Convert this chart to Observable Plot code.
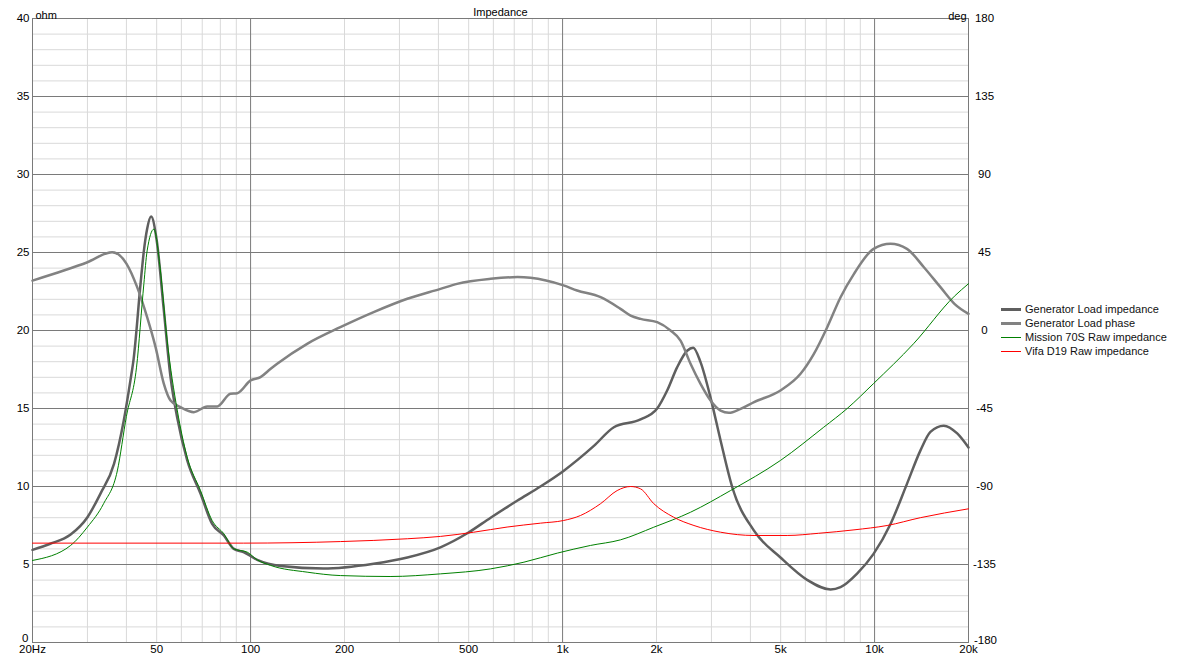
<!DOCTYPE html>
<html>
<head>
<meta charset="utf-8">
<script src="https://cdn.jsdelivr.net/npm/d3@7"></script>
<script src="https://cdn.jsdelivr.net/npm/@observablehq/plot@0.6"></script>
<style>
  html, body { margin: 0; padding: 0; background: #fff; }
  #wrap { position: relative; width: 1177px; height: 660px; font-family: "Liberation Sans", Arial, sans-serif; }
  #legend { position: absolute; left: 1001px; top: 302px; font-size: 11px; color: #111; }
  #legend .row { height: 14px; display: flex; align-items: center; white-space: nowrap; }
  #legend .sw { width: 20px; margin-right: 4px; }
</style>
</head>
<body>
<div id="wrap"><div id="legend"></div></div>
<script>
// ---------- data ----------
const genImpFreq = [20, 22.8, 26.5, 30, 33, 36.5, 39.2, 41.2, 42.2, 44.4, 45.5, 46.6, 48, 50, 52.6, 55.4, 58.2, 62.6, 69.1, 75.3, 82.1, 88.4, 94.9, 105, 114, 125, 171, 248, 318, 406, 495, 588, 717, 849, 1007, 1260, 1460, 1778, 2010, 2164, 2330, 2507, 2623, 2768, 2980, 3209, 3497, 4096, 4993, 6092, 7226, 7780, 8790, 9925, 11250, 12700, 14020, 15100, 16660, 18400, 20000];
const genImpOhm  = [5.94, 6.33, 6.92, 8.03, 9.53, 11.45, 14.2, 16.8, 18.2, 23.0, 25.1, 26.5, 27.3, 25.8, 21.5, 17.0, 14.4, 11.7, 9.55, 7.6, 6.86, 6.0, 5.8, 5.3, 5.05, 4.9, 4.74, 5.05, 5.45, 6.1, 7.0, 8.0, 9.1, 10.0, 11.0, 12.6, 13.8, 14.3, 15.0, 16.15, 17.65, 18.7, 18.9, 17.97, 15.7, 12.95, 9.96, 7.2, 5.45, 4.0, 3.4, 3.55, 4.42, 5.68, 7.6, 10.17, 12.3, 13.5, 13.9, 13.4, 12.5];

const genPhaseFreq = [20, 25.2, 30, 36, 40, 43.3, 46.6, 49.6, 52.7, 55.4, 59.6, 65.8, 72.6, 78.2, 86.2, 90.6, 100, 107.6, 116, 121.7, 151.8, 194, 248, 318, 406, 459, 588, 717, 789, 1007, 1113, 1324, 1533, 1652, 1778, 2010, 2218, 2388, 2571, 2768, 2980, 3209, 3412, 3720, 4109, 4993, 5790, 6390, 7050, 7780, 8590, 9925, 11250, 12700, 14390, 16260, 18030, 20000];
const genPhaseDeg  = [28.8, 34.6, 39.4, 45.2, 38.6, 25, 7.7, -9.6, -30.6, -40.4, -44.2, -47.1, -43.8, -43.8, -36.5, -36.2, -28.8, -26.9, -22.1, -19.2, -7.7, 1.9, 10.6, 18.3, 24.0, 26.9, 29.8, 30.8, 30.4, 26, 23.1, 19.2, 12.5, 8.65, 6.7, 4.8, 0, -5.8, -19.2, -30.8, -40.4, -46.2, -47.5, -45.2, -41.3, -34.6, -25, -13.5, 1.9, 19.2, 32.7, 47.1, 50, 47.1, 36.5, 25, 15.4, 9.6];

const missionFreq = [20, 26.5, 30, 33.8, 37.4, 40, 43.1, 45.5, 46.6, 49, 51.3, 54, 58.2, 62.6, 69.1, 75.3, 82.1, 88.4, 97.6, 105, 116, 151.8, 194, 280, 406, 588, 752, 962, 1228, 1533, 1960, 2571, 3454, 4993, 6870, 8170, 9925, 13330, 18030, 20000];
const missionOhm  = [5.26, 6.22, 7.4, 8.9, 11.0, 14.5, 17.65, 23.0, 25.1, 26.5, 24.0, 19.4, 14.9, 11.9, 9.74, 7.82, 6.97, 6.0, 5.79, 5.3, 4.94, 4.51, 4.29, 4.23, 4.4, 4.72, 5.15, 5.73, 6.22, 6.58, 7.39, 8.35, 9.74, 11.67, 13.8, 15.0, 16.6, 19.15, 22.2, 23.0];

const vifaFreq = [20, 95, 194, 318, 406, 519, 664, 849, 1007, 1141, 1324, 1496, 1652, 1778, 1960, 2271, 2637, 3209, 4109, 5247, 6610, 8590, 10970, 14020, 20000];
const vifaOhm  = [6.37, 6.37, 6.47, 6.65, 6.8, 7.07, 7.4, 7.65, 7.82, 8.14, 8.9, 9.74, 10.0, 9.85, 8.9, 8.03, 7.5, 7.07, 6.86, 6.86, 7.0, 7.22, 7.5, 8.0, 8.57];

const seriesNames  = ["Generator Load impedance", "Generator Load phase", "Mission 70S Raw impedance", "Vifa D19 Raw impedance"];
const seriesColors = ["#5f5f5f", "#828282", "#008000", "#ff0000"];
const seriesWidths = [2.5, 2.5, 1, 1];

const xTickValues = [20, 50, 100, 200, 500, 1000, 2000, 5000, 10000, 20000];
const xTickLabels = ["20Hz", "50", "100", "200", "500", "1k", "2k", "5k", "10k", "20k"];
const yTickValues = [0, 5, 10, 15, 20, 25, 30, 35, 40];
const degTickLabels = ["-180", "-135", "-90", "-45", "0", "45", "90", "135", "180"];

// ---------- build ----------
const degToOhmAxis = d => (d + 180) / 9;   // map deg [-180,180] onto ohm [0,40]

const toRows = (fs, vs) => fs.map((f, i) => ({f, v: vs[i]}));
const genImp = toRows(genImpFreq, genImpOhm);
const genPhase = toRows(genPhaseFreq, genPhaseDeg).map(d => ({f: d.f, v: degToOhmAxis(d.v)}));
const mission = toRows(missionFreq, missionOhm);
const vifa = toRows(vifaFreq, vifaOhm);

const majorFreq = [100, 1000, 10000];
const minorFreq = [];
for (let dec = 10; dec <= 10000; dec *= 10)
  for (let m = 1; m <= 9; m++) {
    const f = dec * m;
    if (f > 20 && f < 20000 && !majorFreq.includes(f)) minorFreq.push(f);
  }
const minorOhm = d3.range(1, 40).filter(v => v % 5 !== 0);
const majorOhm = yTickValues.filter(v => v > 0 && v < 40);

const xTicks = xTickValues.map((v, i) => ({v, label: xTickLabels[i]}));
const degLabelMap = new Map(yTickValues.map((v, i) => [v, degTickLabels[i]]));

const lineOpts = i => ({x: "f", y: "v", stroke: seriesColors[i], strokeWidth: seriesWidths[i], curve: "monotone-x"});

const chart = Plot.plot({
  width: 1177,
  height: 660,
  marginLeft: 32,
  marginRight: 209,
  marginTop: 18,
  marginBottom: 18,
  style: {fontFamily: "'Liberation Sans', Arial, sans-serif", fontSize: "11px", background: "#fff", color: "#000", overflow: "visible"},
  x: {type: "log", domain: [20, 20000], axis: null},
  y: {domain: [0, 40], axis: null},
  marks: [
    Plot.ruleY(minorOhm, {stroke: "#d9d9d9", strokeWidth: 1}),
    Plot.ruleX(minorFreq, {stroke: "#d9d9d9", strokeWidth: 1}),
    Plot.ruleY(majorOhm, {stroke: "#7a7a7a", strokeWidth: 1}),
    Plot.ruleX(majorFreq, {stroke: "#7a7a7a", strokeWidth: 1}),
    Plot.frame({stroke: "#7a7a7a", strokeWidth: 1}),
    Plot.line(genImp, lineOpts(0)),
    Plot.line(genPhase, lineOpts(1)),
    Plot.line(mission, lineOpts(2)),
    Plot.line(vifa, lineOpts(3)),
    // x tick labels
    Plot.text(xTicks, {x: "v", text: "label", frameAnchor: "bottom", dy: 10, fontSize: 11.5, fill: "#000"}),
    // left ohm labels
    Plot.axisY(yTickValues.filter(v => v > 0), {anchor: "left", tickSize: 0, tickPadding: 3, label: null, fontSize: 11.5}),
    Plot.axisY([0], {anchor: "left", tickSize: 0, tickPadding: 4, label: null, fontSize: 11.5, dy: -4}),
    // right deg labels
    Plot.axisY(yTickValues.filter(v => v > 0), {anchor: "right", tickSize: 0, tickPadding: 16, textAnchor: "middle", label: null, tickFormat: d => degLabelMap.get(d), fontSize: 11.5}),
    Plot.axisY([0], {anchor: "right", tickSize: 0, tickPadding: 17, textAnchor: "middle", label: null, tickFormat: d => degLabelMap.get(d), fontSize: 11.5, dy: -2}),
    Plot.text(["Impedance"], {frameAnchor: "top", dy: -10, fontSize: 11, fill: "#000"}),
    Plot.text(["ohm"], {frameAnchor: "top-left", textAnchor: "start", dx: 3, dy: -7, fontSize: 11, fill: "#000"}),
    Plot.text(["deg"], {frameAnchor: "top-right", textAnchor: "end", dx: -2, dy: -6, fontSize: 11, fill: "#000"})
  ]
});
document.getElementById("wrap").prepend(chart);

const legend = document.getElementById("legend");
seriesNames.forEach((name, i) => {
  const row = document.createElement("div");
  row.className = "row";
  const sw = document.createElement("div");
  sw.className = "sw";
  sw.style.borderTop = `${seriesWidths[i] > 1 ? 3 : 1}px solid ${seriesColors[i]}`;
  const t = document.createElement("span");
  t.textContent = name;
  row.appendChild(sw);
  row.appendChild(t);
  legend.appendChild(row);
});
</script>
</body>
</html>
